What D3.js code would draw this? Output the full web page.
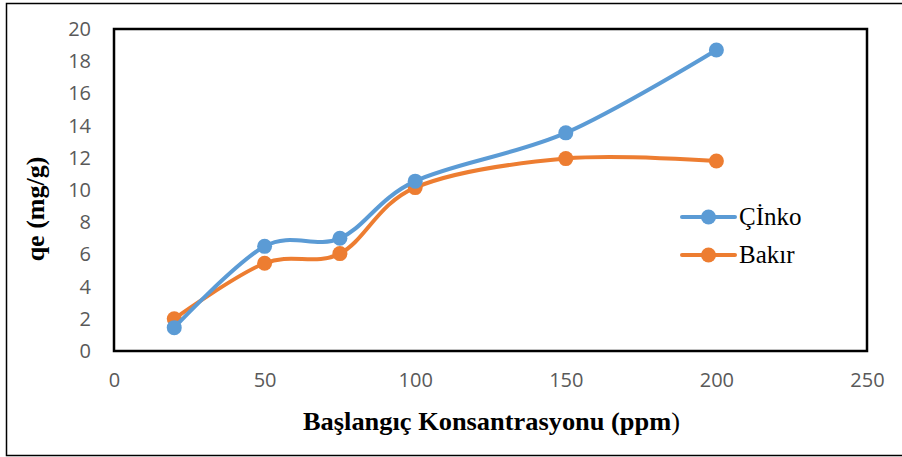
<!DOCTYPE html>
<html>
<head>
<meta charset="utf-8">
<script src="https://cdn.jsdelivr.net/npm/d3@7"></script>
<style>
  body { margin: 0; background: #fff; }
  .chart { width: 902px; height: 457px; }
</style>
</head>
<body>
<div class="chart"></div>
<script>
const concentrations = [20, 50, 75, 100, 150, 200];
const cinkoValues = [1.45, 6.5, 7.0, 10.55, 13.55, 18.7];
const bakirValues = [2.0, 5.45, 6.05, 10.15, 11.95, 11.8];
const seriesNames = ['Çİnko', 'Bakır'];
const seriesColors = ['#5B9BD5', '#ED7D31'];
const xTicks = [0, 50, 100, 150, 200, 250];
const yTicks = [0, 2, 4, 6, 8, 10, 12, 14, 16, 18, 20];

const serif = "'Liberation Serif', 'Times New Roman', serif";
const sans = "'Open Sans', 'Liberation Sans', sans-serif";

const svg = d3.select('.chart')
  .append('svg')
  .attr('width', 902)
  .attr('height', 457);

// outer frame (right side runs off the picture)
svg.append('rect')
  .attr('x', 6.5)
  .attr('y', 3.5)
  .attr('width', 920)
  .attr('height', 452)
  .style('fill', 'none')
  .style('stroke', '#000')
  .style('stroke-width', 1.5);

const plot = { left: 114, right: 867, top: 29, bottom: 351 };

const xScale = d3.scaleLinear()
  .domain([0, 250])
  .range([plot.left, plot.right]);

const yScale = d3.scaleLinear()
  .domain([0, 20])
  .range([plot.bottom, plot.top]);

const xAxis = d3.axisBottom(xScale).tickValues(xTicks).tickSize(0).tickPadding(22);
const yAxis = d3.axisLeft(yScale).tickValues(yTicks).tickSize(0).tickPadding(23);

const gx = svg.append('g')
  .attr('transform', `translate(0, ${plot.bottom})`)
  .call(xAxis);
const gy = svg.append('g')
  .attr('transform', `translate(${plot.left}, 0)`)
  .call(yAxis);

[gx, gy].forEach(g => {
  g.select('.domain').remove();
  g.selectAll('text')
    .style('font-family', sans)
    .style('font-size', '20px')
    .style('fill', '#595959');
});

// plot area border
svg.append('rect')
  .attr('x', plot.left)
  .attr('y', plot.top)
  .attr('width', plot.right - plot.left)
  .attr('height', plot.bottom - plot.top)
  .style('fill', 'none')
  .style('stroke', '#000')
  .style('stroke-width', 2.5);

const seriesData = [cinkoValues, bakirValues].map((vals, i) => ({
  name: seriesNames[i],
  color: seriesColors[i],
  points: concentrations.map((c, j) => ({ x: c, y: vals[j] }))
}));

const line = d3.line()
  .x(d => xScale(d.x))
  .y(d => yScale(d.y))
  .curve(d3.curveCardinal.tension(0));

// draw Bakır first so Çinko sits on top like the reference
seriesData.slice().reverse().forEach(s => {
  svg.append('path')
    .datum(s.points)
    .attr('d', line)
    .style('fill', 'none')
    .style('stroke', s.color)
    .style('stroke-width', 4)
    .style('stroke-linecap', 'round');

  svg.selectAll(null)
    .data(s.points)
    .enter()
    .append('circle')
    .attr('cx', d => xScale(d.x))
    .attr('cy', d => yScale(d.y))
    .attr('r', 7.5)
    .style('fill', s.color);
});

// legend
const legend = svg.append('g')
  .attr('transform', 'translate(682, 217)');

seriesData.forEach((s, i) => {
  const row = legend.append('g')
    .attr('transform', `translate(0, ${i * 38})`);
  row.append('line')
    .attr('x1', 0).attr('x2', 53)
    .attr('y1', 0).attr('y2', 0)
    .style('stroke', s.color)
    .style('stroke-width', 4)
    .style('stroke-linecap', 'round');
  row.append('circle')
    .attr('cx', 26.5)
    .attr('cy', 0)
    .attr('r', 7.5)
    .style('fill', s.color);
  row.append('text')
    .attr('x', 57)
    .attr('y', 8)
    .style('font-family', serif)
    .style('font-size', '25px')
    .style('fill', '#000')
    .text(s.name);
});

// axis titles
const xTitle = svg.append('text')
  .attr('x', 303)
  .attr('y', 430)
  .attr('textLength', 377)
  .attr('lengthAdjust', 'spacingAndGlyphs')
  .style('font-family', serif)
  .style('font-size', '25px')
  .style('font-weight', 'bold')
  .style('fill', '#000');
xTitle.append('tspan').text('Başlangıç Konsantrasyonu (ppm');
xTitle.append('tspan').style('font-weight', 'normal').text(')');

svg.append('text')
  .attr('transform', 'translate(44, 209) rotate(-90)')
  .attr('text-anchor', 'middle')
  .style('font-family', serif)
  .style('font-size', '26px')
  .style('font-weight', 'bold')
  .style('fill', '#000')
  .text('qe (mg/g)');
</script>
</body>
</html>
